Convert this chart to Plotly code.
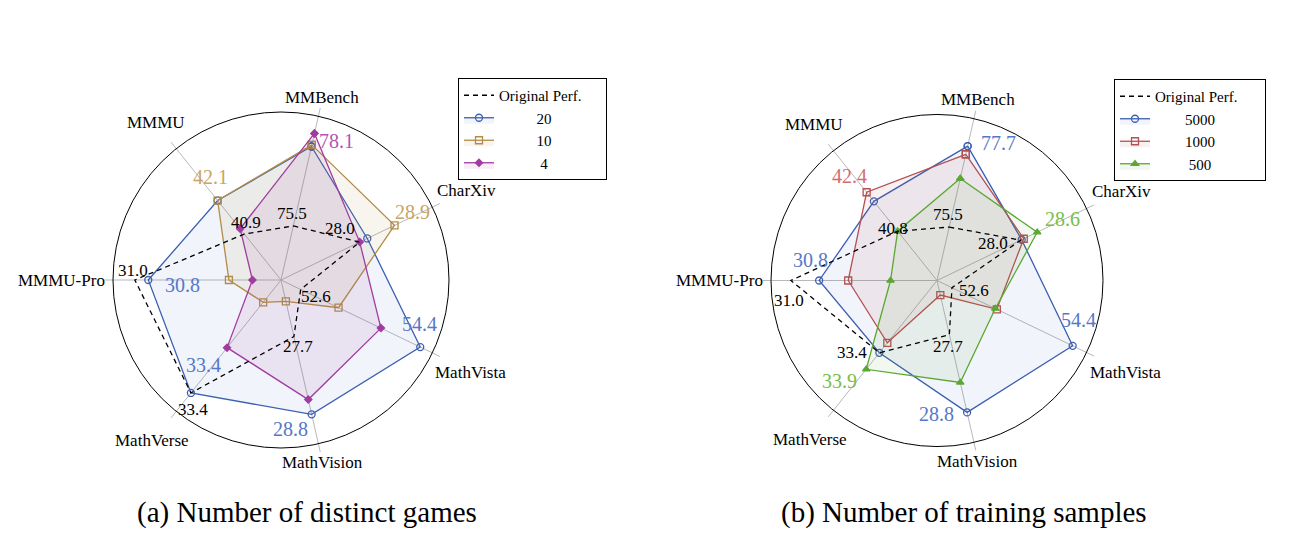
import math
import plotly.graph_objects as go

# ---------------- data ----------------
categories = ["MMBench", "CharXiv", "MathVista", "MathVision", "MathVerse", "MMMU-Pro", "MMMU"]

# (a) Number of distinct games -- per-axis normalised radius (fraction of outer circle)
orig_a = [0.33, 0.52, 0.13, 0.345, 0.86, 0.87, 0.35]
games_20 = [0.815, 0.57, 0.92, 0.82, 0.86, 0.79, 0.605]
games_10 = [0.825, 0.75, 0.38, 0.13, 0.17, 0.31, 0.605]
games_4 = [0.895, 0.52, 0.66, 0.73, 0.515, 0.17, 0.39]

# (b) Number of training samples
orig_b = [0.33, 0.56, 0.10, 0.335, 0.557, 0.88, 0.38]
samples_5000 = [0.83, 0.566, 0.907, 0.815, 0.557, 0.71, 0.61]
samples_1000 = [0.78, 0.58, 0.40, 0.09, 0.48, 0.535, 0.68]
samples_500 = [0.63, 0.67, 0.39, 0.63, 0.684, 0.28, 0.38]

# value labels: (series key, axis, text)
labels_a = [
    ("g4", "MMBench", "78.1"), ("g10", "MMMU", "42.1"), ("g10", "CharXiv", "28.9"),
    ("g20", "MathVista", "54.4"), ("g20", "MathVision", "28.8"), ("g20", "MathVerse", "33.4"),
    ("g20", "MMMU-Pro", "30.8"),
    ("orig", "MMBench", "75.5"), ("orig", "CharXiv", "28.0"), ("orig", "MathVista", "52.6"),
    ("orig", "MathVision", "27.7"), ("orig", "MathVerse", "33.4"), ("orig", "MMMU-Pro", "31.0"),
    ("orig", "MMMU", "40.9"),
]
labels_b = [
    ("s5000", "MMBench", "77.7"), ("s1000", "MMMU", "42.4"), ("s500", "CharXiv", "28.6"),
    ("s5000", "MathVista", "54.4"), ("s5000", "MathVision", "28.8"), ("s500", "MathVerse", "33.9"),
    ("s5000", "MMMU-Pro", "30.8"),
    ("orig", "MMBench", "75.5"), ("orig", "CharXiv", "28.0"), ("orig", "MathVista", "52.6"),
    ("orig", "MathVision", "27.7"), ("orig", "MathVerse", "33.4"), ("orig", "MMMU-Pro", "31.0"),
    ("orig", "MMMU", "40.8"),
]

# ---------------- styles ----------------
FONT = "Liberation Serif, Times New Roman, serif"
BLUE, GOLD, PURPLE = "rgb(60,95,178)", "rgb(178,140,72)", "rgb(160,60,160)"
RED, GREEN = "rgb(180,80,80)", "rgb(90,168,50)"
LBL = {BLUE: "rgb(85,120,200)", GOLD: "rgb(200,165,100)", PURPLE: "rgb(180,85,180)",
       RED: "rgb(210,110,110)", GREEN: "rgb(120,190,70)", "black": "black"}

# pixel offsets (xshift, yshift) of each value label from its point
shift_a = [(22, -8), (-7, 24), (18, 13), (-1, 23), (-21, -15), (13, 28), (34, -5),
           (-1, 12), (-20, 14), (15, -7), (4, -10), (2, -17), (-2, 10), (2, 12)]
shift_b = [(31, 3), (-17, 16), (25, 13), (6, 26), (-31, -2), (-27, -12), (-9, 21),
           (-1, 13), (-28, -3), (22, -3), (-1, -12), (-27, 0), (-2, -20), (-5, 3)]
# category label placement: (xanchor, xshift, yshift) relative to the r=1 point
cat_style = [("center", 4, 19), ("left", 3, 17), ("left", 1, -20), ("center", 4, -19),
             ("center", -24, -29), ("right", -6, 0), ("center", -20, 26)]

OFF = 8  # page body margin of the html page
W, H = 1300, 545
ROT = 77.142857
STEP = 360 / len(categories)
RMAX = 1.05


def dom(cx, cy, R):
    e = R * RMAX
    cx -= OFF
    cy -= OFF
    return [(cx - e) / W, (cx + e) / W], [(H - (cy + e)) / H, (H - (cy - e)) / H]


xa, ya = dom(281, 280, 168)
xb, yb = dom(937, 280.5, 166)

NB = "\u00a0"

fig = go.Figure()


def close(v):
    return list(v) + [v[0]]


def add_series(r, name, color, symbol, size, fillalpha, subplot, legend, rank, filled=False):
    rgb = color[4:-1]
    fig.add_trace(go.Scatterpolar(
        r=close(r), theta=close(categories), mode="lines+markers", name=name,
        line=dict(color=color, width=1.3),
        marker=dict(symbol=symbol, size=size,
                    color=color if filled else "rgba(0,0,0,0)",
                    line=dict(color=color, width=1.3)),
        fill="toself", fillcolor=f"rgba({rgb},{fillalpha})",
        subplot=subplot, legend=legend, legendrank=rank, cliponaxis=False,
        hoverinfo="skip"))


def add_orig(r, subplot, legend, pad):
    fig.add_trace(go.Scatterpolar(
        r=close(r), theta=close(categories), mode="lines", name="Original Perf." + NB * pad,
        line=dict(color="black", width=1.3, dash="5px,4px"),
        subplot=subplot, legend=legend, legendrank=1, hoverinfo="skip"))


def xy(r, cat):
    a = math.radians(ROT - categories.index(cat) * STEP)
    return r * math.cos(a), r * math.sin(a)


annotations = []


def add_labels(labels, series, colors, shifts, xref, yref):
    for (key, ax, txt), (dx, dy) in zip(labels, shifts):
        x, y = xy(series[key][categories.index(ax)], ax)
        annotations.append(dict(
            x=x, y=y, xref=xref, yref=yref, text=txt, showarrow=False,
            xanchor="center", yanchor="middle", xshift=dx, yshift=dy,
            font=dict(family=FONT, size=17 if key == "orig" else 20, color=LBL[colors[key]])))


def add_cats(xref, yref):
    for cat, (anc, dx, dy) in zip(categories, cat_style):
        x, y = xy(1.0, cat)
        annotations.append(dict(
            x=x, y=y, xref=xref, yref=yref, text=cat, showarrow=False,
            xanchor=anc, yanchor="middle", xshift=dx, yshift=dy,
            font=dict(family=FONT, size=17, color="black")))


# chart (a)
add_series(games_20, NB * 10 + "20", BLUE, "circle", 7, 0.07, "polar", "legend", 2)
add_series(games_10, NB * 10 + "10", GOLD, "square", 7, 0.09, "polar", "legend", 3)
add_series(games_4, NB * 11 + "4", PURPLE, "diamond", 5.5, 0.09, "polar", "legend", 4, filled=True)
add_orig(orig_a, "polar", "legend", 5)
add_labels(labels_a, {"orig": orig_a, "g20": games_20, "g10": games_10, "g4": games_4},
           {"orig": "black", "g20": BLUE, "g10": GOLD, "g4": PURPLE}, shift_a, "x", "y")
add_cats("x", "y")

# chart (b)
add_series(samples_5000, NB * 8 + "5000", BLUE, "circle", 7, 0.07, "polar2", "legend2", 2)
add_series(samples_1000, NB * 8 + "1000", RED, "square", 7, 0.08, "polar2", "legend2", 3)
add_series(samples_500, NB * 9 + "500", GREEN, "triangle-up", 6.5, 0.08, "polar2", "legend2", 4, filled=True)
add_orig(orig_b, "polar2", "legend2", 6)
add_labels(labels_b, {"orig": orig_b, "s5000": samples_5000, "s1000": samples_1000, "s500": samples_500},
           {"orig": "black", "s5000": BLUE, "s1000": RED, "s500": GREEN}, shift_b, "x2", "y2")
add_cats("x2", "y2")

# invisible anchors so the overlay cartesian axes exist
fig.add_trace(go.Scatter(x=[0], y=[0], mode="markers", marker=dict(opacity=0),
                         xaxis="x", yaxis="y", showlegend=False, hoverinfo="skip"))
fig.add_trace(go.Scatter(x=[0], y=[0], mode="markers", marker=dict(opacity=0),
                         xaxis="x2", yaxis="y2", showlegend=False, hoverinfo="skip"))


def polar_cfg(xd, yd):
    return dict(
        domain=dict(x=xd, y=yd), bgcolor="rgba(0,0,0,0)",
        radialaxis=dict(range=[0, RMAX], tickvals=[1.0], showticklabels=False, ticks="",
                        showline=False, showgrid=True, gridcolor="black", gridwidth=1.1),
        angularaxis=dict(type="category", categoryarray=categories, direction="clockwise",
                         rotation=ROT, showline=False, ticks="", showgrid=True,
                         showticklabels=False,
                         gridcolor="rgb(185,185,185)", gridwidth=1),
    )


def overlay_axis(d, anchor):
    return dict(domain=d, range=[-RMAX, RMAX], visible=False, fixedrange=True, anchor=anchor)


legend_common = dict(bordercolor="black", borderwidth=1, bgcolor="white",
                     font=dict(family=FONT, size=15, color="black"),
                     xanchor="left", yanchor="top", tracegroupgap=0, itemwidth=30)

annotations += [
    dict(text="(a) Number of distinct games", x=(307 - OFF) / W, y=1 - (512 - OFF) / H,
         xref="paper", yref="paper", showarrow=False, xanchor="center", yanchor="middle",
         font=dict(family=FONT, size=29, color="black")),
    dict(text="(b) Number of training samples", x=(964 - OFF) / W, y=1 - (512 - OFF) / H,
         xref="paper", yref="paper", showarrow=False, xanchor="center", yanchor="middle",
         font=dict(family=FONT, size=29, color="black")),
]

fig.update_layout(
    width=W, height=H, margin=dict(l=0, r=0, t=0, b=0),
    paper_bgcolor="white", plot_bgcolor="rgba(0,0,0,0)",
    polar=polar_cfg(xa, ya),
    polar2=polar_cfg(xb, yb),
    xaxis=overlay_axis(xa, "y"), yaxis=overlay_axis(ya, "x"),
    xaxis2=overlay_axis(xb, "y2"), yaxis2=overlay_axis(yb, "x2"),
    legend=dict(x=(458 - OFF) / W, y=1 - (78 - OFF) / H, **legend_common),
    legend2=dict(x=(1114 - OFF) / W, y=1 - (79 - OFF) / H, **legend_common),
    annotations=annotations,
)

fig.write_html("out.html")
